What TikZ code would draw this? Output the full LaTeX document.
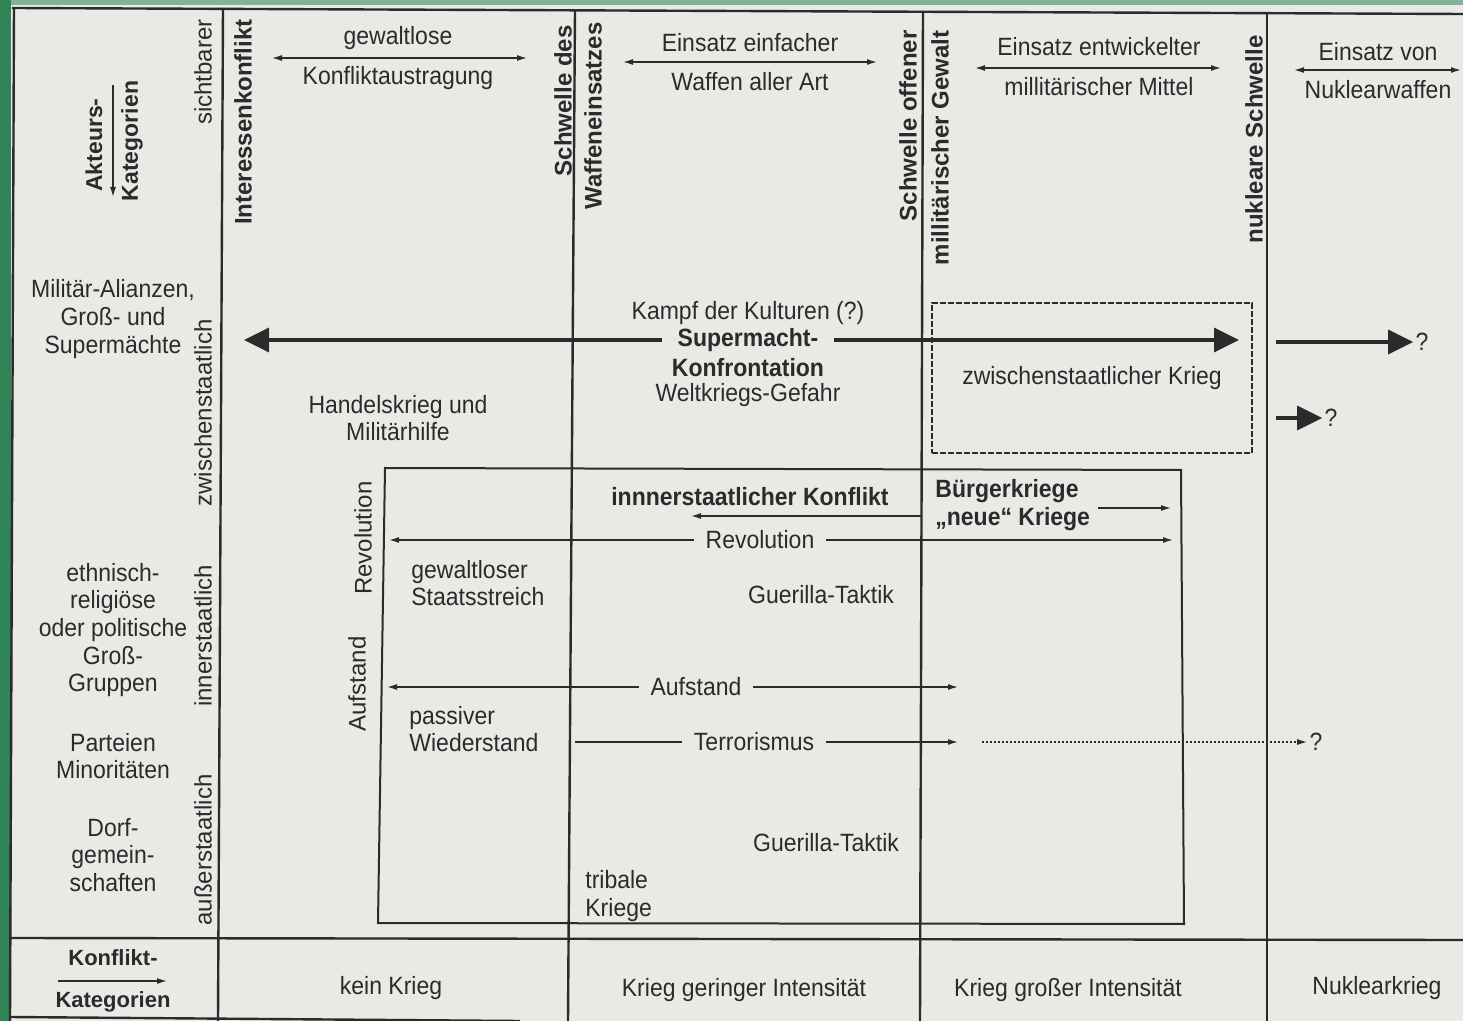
\documentclass[tikz,border=0pt]{standalone}
\usepackage{fontspec}
\setmainfont{Liberation Sans}[FakeStretch=0.92]
\newfontfamily\plainsans{Liberation Sans}
\usepackage{xcolor}
\usetikzlibrary{positioning,arrows.meta}
\definecolor{ink}{HTML}{2B2B2B}
\definecolor{paper}{HTML}{E9E9E6}
\definecolor{felt}{HTML}{2F8556}
\definecolor{feltlight}{HTML}{7DB596}

\begin{document}
\begin{tikzpicture}[x=0.5pt, y=-0.5pt, ink,
  every node/.style={font=\fontsize{12.5}{13.8}\selectfont, align=center, inner sep=1pt, text=ink},
  heavy/.style={font=\fontsize{12.5}{13.8}\selectfont\bfseries},
  vtext/.style={rotate=90, font=\plainsans\fontsize{12}{13}\selectfont},
  vhead/.style={rotate=90, font=\plainsans\fontsize{12}{13}\selectfont\bfseries},
  cathead/.style={font=\plainsans\fontsize{11}{12}\selectfont\bfseries},
  rule/.style={line width=1.2pt},
  thinarr/.style={line width=0.7pt, -{Latex[length=5pt,width=3pt]}},
  twoarr/.style={line width=0.7pt, {Latex[length=5pt,width=3pt]}-{Latex[length=5pt,width=3pt]}},
  fatarr/.style={line width=1.7pt, -{Triangle[length=12.5pt,width=12pt]}},
  gap/.style={outer sep=#1}, gap/.default=5pt,
  dashbox/.style={draw, line width=0.6pt, dash pattern=on 3pt off 1pt, minimum width=160pt, minimum height=75pt},
]
\useasboundingbox (0,0) rectangle (1463,1021);
\fill[felt] (0,0) rectangle (1463,1021);
\fill[feltlight] (11,0) rectangle (1463,5);
\fill[paper] (11,5) rectangle (1463,1021);

% frame and thresholds
\draw[rule] (12,8) -- (1463,14);
\draw[rule] (14,8) -- (10,1021);
\draw[rule] (10,1017) -- (520,1021);
\draw[rule] (10,938) -- (1463,940);
\draw[rule] (223,8) -- (218,1021);
\draw[rule] (575,10) -- (568,1021);
\draw[rule] (923,11) -- (920,1021);
\draw[rule] (1267,13) -- (1267,1021);
\draw[line width=1pt] (385,468) -- (1181,470) -- (1184,924) -- (378,923) -- cycle;

% header column
\node[vhead, font=\plainsans\fontsize{11.5}{12}\selectfont\bfseries] (akt) at (94,145) {Akteurs-};
\node[vhead, font=\plainsans\fontsize{11.5}{12}\selectfont\bfseries] (kat) at (132,141) {Kategorien};
\coordinate (aktA) at (113,85);
\coordinate (aktB) at (113,197);
\draw[thinarr] (aktA) -- (aktB);
\node[vtext, anchor=east] (sicht) at (203,17) {sichtbarer};
\node[vhead, anchor=east] (inter) at (243,17) {Interessenkonflikt};
\node[vhead, anchor=east] (schwa) at (563,23) {Schwelle des};
\node[vhead, anchor=east] (schwb) at (593,20) {Waffeneinsatzes};
\node[vhead, anchor=east] (offa) at (908,28) {Schwelle offener};
\node[vhead, anchor=east] (offb) at (940,28) {millitärischer Gewalt};
\node[vhead, anchor=east] (nuks) at (1254,33) {nukleare Schwelle};

% header arrows
\node (gew) at (398,38) {gewaltlose};
\node (kaus) at (398,78) {Konfliktaustragung};
\coordinate (gewL) at (272,58);
\coordinate (gewR) at (527,58);
\draw[twoarr] (gewL) -- (gewR);
\node (einf) at (750,43) {Einsatz einfacher};
\node (waff) at (750,82) {Waffen aller Art};
\coordinate (einfL) at (623,62);
\coordinate (einfR) at (877,62);
\draw[twoarr] (einfL) -- (einfR);
\node (entw) at (1099,47) {Einsatz entwickelter};
\node (mitt) at (1099,87) {millitärischer Mittel};
\coordinate (entwL) at (975,68);
\coordinate (entwR) at (1221,68);
\draw[twoarr] (entwL) -- (entwR);
\node (evon) at (1378,52) {Einsatz von};
\node (nwaf) at (1378,90) {Nuklearwaffen};
\coordinate (evonL) at (1294,70);
\coordinate (evonR) at (1461,70);
\draw[twoarr] (evonL) -- (evonR);

% actor categories
\node (mil) at (113,319) {Militär-Alianzen,\\Groß- und\\Supermächte};
\node (eth) at (113,630) {ethnisch-\\religiöse\\oder politische\\Groß-\\Gruppen};
\node (part) at (113,756) {Parteien\\Minoritäten};
\node (dorf) at (113,855) {Dorf-\\gemein-\\schaften};
\node[vtext] (zwi) at (203,413) {zwischenstaatlich};
\node[vtext] (inn) at (203,636) {innerstaatlich};
\node[vtext] (aus) at (203,850) {außerstaatlich};

% interstate level
\node (kampf) at (748,313) {Kampf der Kulturen (?)};
\node[heavy, gap=7pt] (supm) at (748,340) {Supermacht-};
\node[heavy] (konf) at (748,368) {Konfrontation};
\node (welt) at (748,395) {Weltkriegs-Gefahr};
\coordinate (supL) at (244,340);
\coordinate (supR) at (1239,340);
\draw[fatarr] (supm.west) -- (supL);
\draw[fatarr] (supm.east) -- (supR);
\node (hand) at (398,418) {Handelskrieg und\\Militärhilfe};
\node[dashbox] (zsk) at (1092,378) {zwischenstaatlicher Krieg};
\node (qa) at (1422,342) {?};
\coordinate (qaS) at (1276,342);
\draw[fatarr] (qaS) -- (qa.west);
\node (qb) at (1331,418) {?};
\coordinate (qbS) at (1276,418);
\draw[fatarr] (qbS) -- (qb.west);

% intrastate level
\node[vtext] (revv) at (363,538) {Revolution};
\node[vtext] (aufv) at (357,684) {Aufstand};
\node[heavy] (innk) at (750,497) {innnerstaatlicher Konflikt};
\coordinate (innS) at (921,516);
\coordinate (innE) at (691,516);
\draw[thinarr] (innS) -- (innE);
\node[heavy, anchor=west, align=left] (bk) at (933,505) {Bürgerkriege\\„neue“ Kriege};
\coordinate (bkS) at (1098,508);
\coordinate (bkE) at (1171,508);
\draw[thinarr] (bkS) -- (bkE);
\node[gap] (rev) at (760,540) {Revolution};
\coordinate (revL) at (389,540);
\coordinate (revR) at (1173,540);
\draw[thinarr] (rev.west) -- (revL);
\draw[thinarr] (rev.east) -- (revR);
\node[anchor=west, align=left] (gstr) at (409,583) {gewaltloser\\Staatsstreich};
\node (guea) at (821,595) {Guerilla-Taktik};
\node[gap] (auf) at (696,687) {Aufstand};
\coordinate (aufL) at (387,687);
\coordinate (aufR) at (958,687);
\draw[thinarr] (auf.west) -- (aufL);
\draw[thinarr] (auf.east) -- (aufR);
\node[anchor=west, align=left] (pas) at (407,729) {passiver\\Wiederstand};
\node[gap] (ter) at (754,742) {Terrorismus};
\coordinate (terS) at (575,742);
\coordinate (terE) at (958,742);
\draw[line width=0.7pt] (terS) -- (ter.west);
\draw[thinarr] (ter.east) -- (terE);
\node (qc) at (1316,742) {?};
\coordinate (dotS) at (982,742);
\draw[thinarr, dash pattern=on 0.8pt off 1.2pt] (dotS) -- (qc.west);
\node (gueb) at (826,843) {Guerilla-Taktik};
\node[anchor=west, align=left] (trib) at (583,896) {tribale\\Kriege};

% conflict categories
\node[cathead] (konk) at (113,958) {Konflikt-};
\node[cathead] (konkat) at (113,1002) {Kategorien};
\coordinate (kkS) at (58,981);
\coordinate (kkE) at (167,981);
\draw[thinarr] (kkS) -- (kkE);
\node (kein) at (391,988) {kein Krieg};
\node (gering) at (744,990) {Krieg geringer Intensität};
\node (gross) at (1068,990) {Krieg großer Intensität};
\node (nukl) at (1377,988) {Nuklearkrieg};
\end{tikzpicture}
\end{document}
